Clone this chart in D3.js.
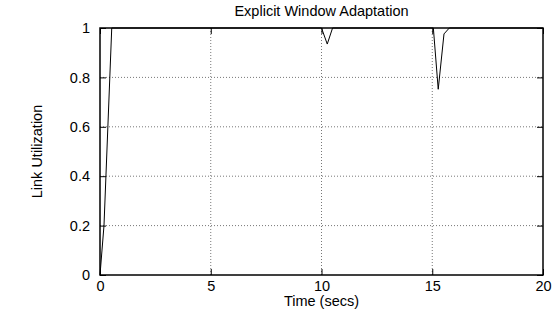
<!DOCTYPE html>
<html>
<head>
<meta charset="utf-8">
<script src="https://cdn.jsdelivr.net/npm/d3@7"></script>
<style>
  body { margin: 0; background: #fff; }
  text { font-family: "Liberation Sans", Arial, sans-serif; font-size: 14.5px; fill: #000; }
</style>
</head>
<body>
<div id="chart"></div>
<script>
var svgWidth = 560;
var svgHeight = 318;

var margin = { top: 28, right: 17, bottom: 43, left: 100 };

var width = svgWidth - margin.left - margin.right;
var height = svgHeight - margin.top - margin.bottom;

// data
var timeSecs = [0, 0.18, 0.53, 10.0, 10.26, 10.5, 15.05, 15.27, 15.53, 15.77, 20];
var utilization = [0, 0.2, 1, 1, 0.935, 1, 1, 0.752, 0.976, 1, 1];
var xTicks = [0, 5, 10, 15, 20];
var yTicks = [0, 0.2, 0.4, 0.6, 0.8, 1];

var svg = d3.select("#chart")
  .append("svg")
  .attr("width", svgWidth)
  .attr("height", svgHeight);

var chartGroup = svg.append("g")
  .attr("transform", `translate(${margin.left}, ${margin.top})`);

var xScale = d3.scaleLinear().domain([0, 20]).range([0, width]);
var yScale = d3.scaleLinear().domain([0, 1]).range([height, 0]);

// grid
chartGroup.selectAll(".gx")
  .data(xTicks.slice(1, -1))
  .enter()
  .append("line")
  .attr("x1", d => xScale(d)).attr("x2", d => xScale(d))
  .attr("y1", 0).attr("y2", height)
  .attr("stroke", "#777")
  .attr("stroke-dasharray", "1,2");

chartGroup.selectAll(".gy")
  .data(yTicks.slice(1, -1))
  .enter()
  .append("line")
  .attr("x1", 0).attr("x2", width)
  .attr("y1", d => yScale(d)).attr("y2", d => yScale(d))
  .attr("stroke", "#777")
  .attr("stroke-dasharray", "1,2");

// axes, ticks pointing inward
var fmt = d3.format("");
chartGroup.append("g")
  .attr("transform", `translate(0, ${height})`)
  .call(d3.axisBottom(xScale).tickValues(xTicks).tickSize(-6).tickPadding(6).tickFormat(fmt))
  .call(g => g.select(".domain").remove());

chartGroup.append("g")
  .call(d3.axisTop(xScale).tickValues(xTicks).tickSize(-6).tickFormat(""))
  .call(g => g.select(".domain").remove());

chartGroup.append("g")
  .call(d3.axisLeft(yScale).tickValues(yTicks).tickSize(-6).tickPadding(10).tickFormat(fmt))
  .call(g => g.select(".domain").remove());

chartGroup.append("g")
  .attr("transform", `translate(${width}, 0)`)
  .call(d3.axisRight(yScale).tickValues(yTicks).tickSize(-6).tickFormat(""))
  .call(g => g.select(".domain").remove());

chartGroup.selectAll(".tick text")
  .style("font-family", "'Liberation Sans', Arial, sans-serif")
  .style("font-size", "14.5px")
  .attr("fill", "#000");

// frame
chartGroup.append("rect")
  .attr("width", width)
  .attr("height", height)
  .attr("fill", "none")
  .attr("stroke", "#000")
  .attr("stroke-width", 1.5);

// data line
var line = d3.line()
  .x((d, i) => xScale(timeSecs[i]))
  .y(d => yScale(d));

chartGroup.append("path")
  .datum(utilization)
  .attr("d", line)
  .attr("fill", "none")
  .attr("stroke", "#000")
  .attr("stroke-width", 1);

// labels
svg.append("text")
  .attr("x", margin.left + width / 2)
  .attr("y", 16)
  .attr("text-anchor", "middle")
  .text("Explicit Window Adaptation");

svg.append("text")
  .attr("x", margin.left + width / 2)
  .attr("y", 306)
  .attr("text-anchor", "middle")
  .text("Time (secs)");

svg.append("text")
  .attr("transform", "rotate(-90)")
  .attr("x", -(margin.top + height / 2))
  .attr("y", 42)
  .attr("text-anchor", "middle")
  .text("Link Utilization");
</script>
</body>
</html>
